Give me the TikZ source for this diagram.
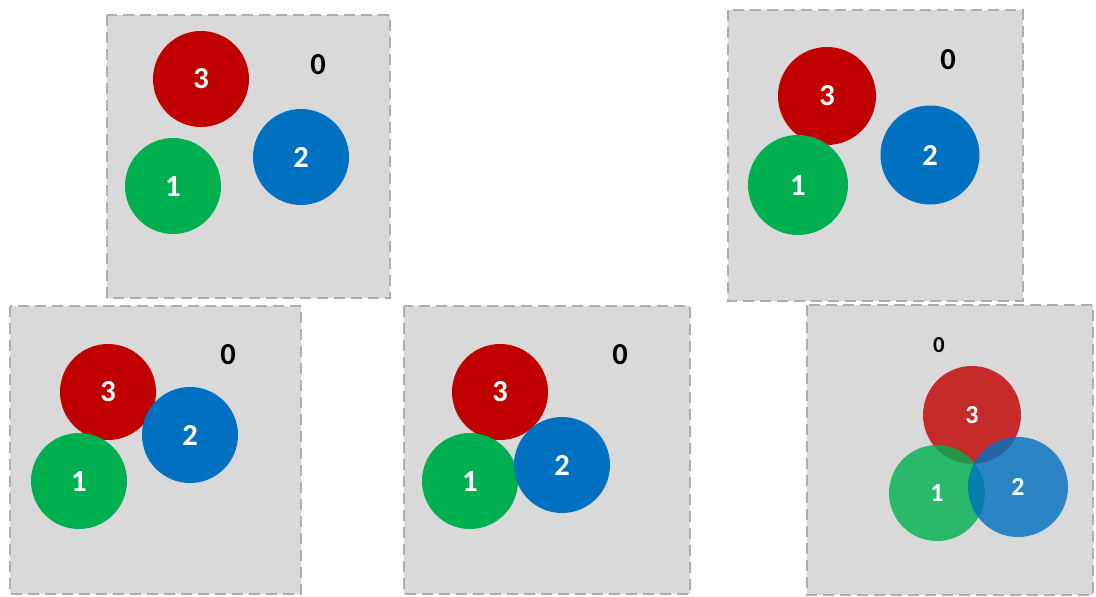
\documentclass[tikz,border=0pt]{standalone}
\usepackage{fontspec}
\usepackage{graphicx}
\setmainfont{Carlito}
\newcommand{\bigdig}[1]{\resizebox{!}{20pt}{\bfseries #1}}
\newcommand{\smalldig}[1]{\resizebox{!}{17pt}{\bfseries #1}}
\newcommand{\smallzero}[1]{\resizebox{!}{15pt}{\bfseries #1}}
\definecolor{cred}{HTML}{C00000}
\definecolor{cgreen}{HTML}{00B050}
\definecolor{cblue}{HTML}{0070C0}
\definecolor{pgray}{HTML}{D9D9D9}
\definecolor{bgray}{HTML}{ADADAD}
\tikzset{
  panel/.style={fill=pgray, draw=bgray, line width=2.2pt, dash pattern=on 11pt off 6pt},
  ball/.style={circle, minimum size=96pt, inner sep=0pt, text=white},
  zero/.style={text=black, inner sep=0pt},
  sball/.style={ball, fill opacity=0.8, text opacity=1},
}
\begin{document}
\begin{tikzpicture}[x=1pt,y=-1pt]
\useasboundingbox (0,0) rectangle (1096,597);
% panel A
\draw[panel] (107,15) rectangle (390,298);
\node[ball, fill=cred] (a3) at (201,79) {\bigdig{3}};
\node[ball, fill=cgreen] (a1) at (173,186) {\bigdig{1}};
\node[ball, fill=cblue] (a2) at (301,157) {\bigdig{2}};
\node[zero] (a0) at (318,65) {\bigdig{0}};
% panel B
\draw[panel] (728,10) rectangle (1023,301);
\node[ball, fill=cred, minimum size=98pt] (b3) at (827,96) {\bigdig{3}};
\node[ball, fill=cgreen, minimum size=100pt] (b1) at (798,185) {\bigdig{1}};
\node[ball, fill=cblue, minimum size=99pt] (b2) at (930,155) {\bigdig{2}};
\node[zero] (b0) at (948,60) {\bigdig{0}};
% panel C
\draw[panel] (10,306) rectangle (301,594);
\node[ball, fill=cred] (c3) at (108,392) {\bigdig{3}};
\node[ball, fill=cgreen] (c1) at (79,481) {\bigdig{1}};
\node[ball, fill=cblue] (c2) at (190,435) {\bigdig{2}};
\node[zero] (c0) at (228,355) {\bigdig{0}};
% panel D
\draw[panel] (404,306) rectangle (690,594);
\node[ball, fill=cred] (d3) at (500,392) {\bigdig{3}};
\node[ball, fill=cgreen] (d1) at (470,481) {\bigdig{1}};
\node[ball, fill=cblue] (d2) at (562,465) {\bigdig{2}};
\node[zero] (d0) at (620,355) {\bigdig{0}};
% panel E
\draw[panel] (807,305) rectangle (1093,595);
\node[sball, fill=cred, minimum size=98pt] (e3) at (972,415) {\smalldig{3}};
\node[sball, fill=cgreen, minimum size=96pt] (e1) at (937,493) {\smalldig{1}};
\node[sball, fill=cblue, minimum size=100pt] (e2) at (1018,487) {\smalldig{2}};
\node[zero] (e0) at (939,345) {\smallzero{0}};
\end{tikzpicture}
\end{document}
